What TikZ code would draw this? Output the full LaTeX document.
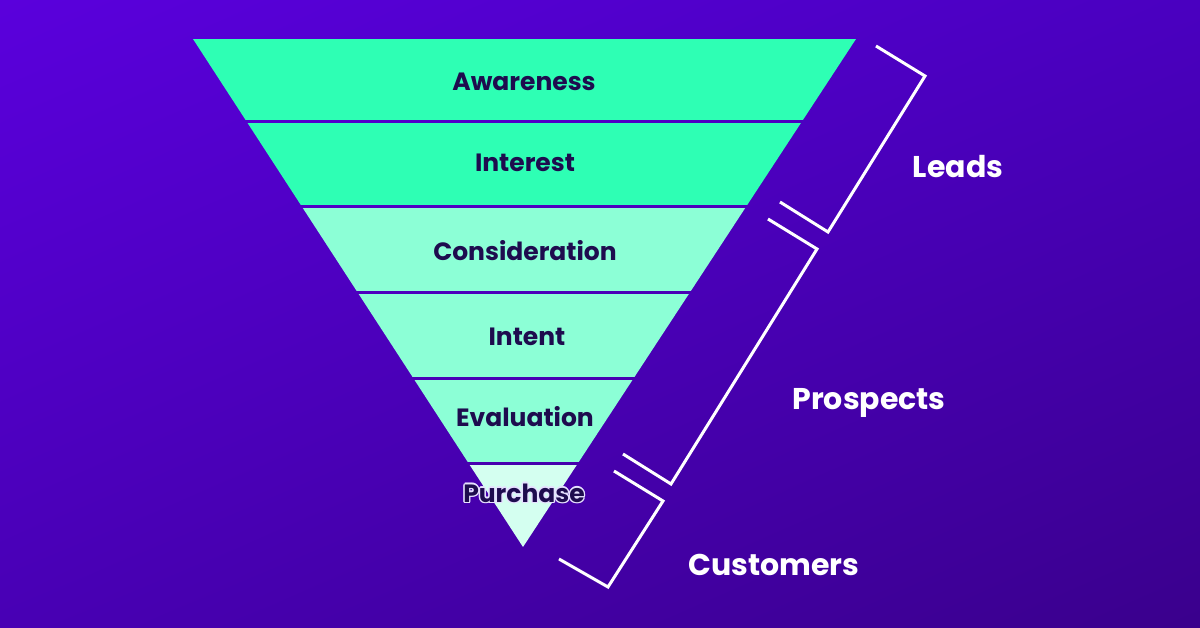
\documentclass[tikz,border=0pt]{standalone}
\usepackage{fontspec}
\setmainfont{Poppins}
\usetikzlibrary{shadings}
\definecolor{bgA}{HTML}{5A00DC}
\definecolor{bgB}{HTML}{4A00C0}
\definecolor{bgC}{HTML}{4800B4}
\definecolor{bgD}{HTML}{3A008C}
\definecolor{gTop}{HTML}{2EFFB4}
\definecolor{gMid}{HTML}{8CFFD6}
\definecolor{gLow}{HTML}{D4FFF0}
\definecolor{ink}{HTML}{1E0C4E}
\definecolor{halo}{HTML}{E6E0FF}
\tikzset{
  stage/.style={font=\fontsize{25}{28}\selectfont\bfseries, text=ink, inner sep=0pt},
  group/.style={font=\fontsize{30}{33}\selectfont\bfseries, text=white, inner sep=0pt},
  brk/.style={draw=white, line width=3pt, line join=miter},
}
\begin{document}
\begin{tikzpicture}[x=1pt,y=-1pt]
\useasboundingbox (0,0) rectangle (1200,628);
\shade[upper left=bgA, upper right=bgB, lower left=bgC, lower right=bgD] (0,0) rectangle (1200,628);
% funnel bands
\begin{scope}
\clip (193,39) -- (856,39) -- (523,547) -- cycle;
\fill[gTop] (0,39) rectangle (1200,120.5);
\fill[gTop] (0,123.5) rectangle (1200,205.5);
\fill[gMid] (0,208.5) rectangle (1200,291.5);
\fill[gMid] (0,294.5) rectangle (1200,377.5);
\fill[gMid] (0,380.5) rectangle (1200,461.5);
\fill[gLow] (0,464.5) rectangle (1200,547);
\end{scope}
% stage labels
\node[stage] (aw) at (524,82) {Awareness};
\node[stage] (in) at (525,163) {Interest};
\node[stage] (co) at (525,251) {Consideration};
\node[stage] (it) at (527,337) {Intent};
\node[stage] (ev) at (525,417) {Evaluation};
\foreach \dx/\dy in {1.4/0,-1.4/0,0/1.4,0/-1.4,1/1,-1/1,1/-1,-1/-1}
  \node[stage, text=halo] at (524+\dx,493+\dy) {Purchase};
\node[stage] (pu) at (524,493) {Purchase};
% brackets
\draw[brk] (876,46) -- (925,76) -- (828,232) -- (780,202);
\draw[brk] (768,219) -- (817,249) -- (671,484) -- (623,454);
\draw[brk] (614,471) -- (663,501) -- (608,587) -- (559,559);
% group labels
\node[group] (le) at (958,167) {Leads};
\node[group] (pr) at (869,403) {Prospects};
\node[group] (cu) at (774,565) {Customers};
\end{tikzpicture}
\end{document}
